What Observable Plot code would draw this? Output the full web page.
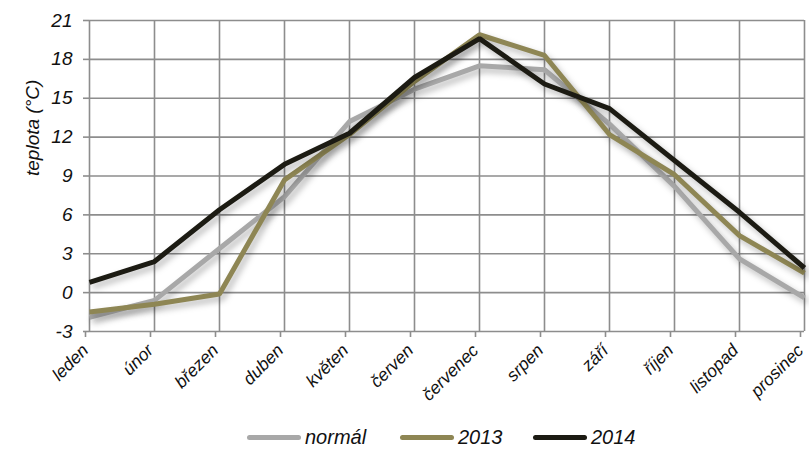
<!DOCTYPE html>
<html>
<head>
<meta charset="utf-8">
<script src="https://cdn.jsdelivr.net/npm/d3@7"></script>
<script src="https://cdn.jsdelivr.net/npm/@observablehq/plot@0.6"></script>
<style>
  body { margin: 0; background: #fff; font-family: "Liberation Sans", Arial, sans-serif; }
  #chart { position: relative; width: 809px; height: 449px; }
  #chart svg text { font-family: "Liberation Sans", Arial, sans-serif; font-style: italic; fill: #111; }
  .shadow path { filter: drop-shadow(3px 4px 3px rgba(0,0,0,0.28)); }
  #legend { position: absolute; left: 0; top: 424px; width: 809px; height: 26px; }
  .item { position: absolute; top: 0; display: flex; align-items: center; height: 26px; font-style: italic; font-size: 20px; color: #111; }
  .sw { display: inline-block; width: 54px; height: 5px; border-radius: 3px; margin-right: 4px; }
</style>
</head>
<body>
<div id="chart"></div>
<script>
const months = ["leden","únor","březen","duben","květen","červen","červenec","srpen","září","říjen","listopad","prosinec"];
const normal = [-1.9, -0.6, 3.4, 7.4, 13.2, 15.7, 17.5, 17.2, 13.0, 8.2, 2.6, -0.4];
const y2013  = [-1.5, -0.9, -0.1, 8.7, 12.2, 16.3, 19.9, 18.3, 12.2, 9.1, 4.4, 1.5];
const y2014  = [0.8, 2.4, 6.4, 9.9, 12.3, 16.6, 19.6, 16.1, 14.2, 10.2, 6.2, 1.9];
const yTicks = [-3, 0, 3, 6, 9, 12, 15, 18, 21];
const seriesNames = ["normál", "2013", "2014"];
const seriesColors = ["#a8a8a8", "#8e8654", "#1c1b13"];

const seriesValues = [normal, y2013, y2014];
const data = seriesNames.flatMap((s, i) => months.map((m, j) => ({series: s, month: m, value: seriesValues[i][j]})));

const gridColor = "#8d8d8d";
const chart = Plot.plot({
  width: 809,
  height: 420,
  marginLeft: 89,
  marginRight: 5,
  marginTop: 20,
  marginBottom: 89,
  style: { background: "#fff", overflow: "visible" },
  x: { type: "point", domain: months, padding: 0 },
  y: { domain: [-3, 21] },
  color: { domain: seriesNames, range: seriesColors },
  marks: [
    Plot.gridX(months, { stroke: gridColor, strokeOpacity: 1, strokeWidth: 1.6 }),
    Plot.gridY(yTicks, { stroke: gridColor, strokeOpacity: 1, strokeWidth: 1.6 }),
    Plot.axisY(yTicks, { tickSize: 6, tickPadding: 11, stroke: gridColor, strokeWidth: 1.6, fontSize: 19, tickFormat: d => String(d), label: null }),
    Plot.axisX(months, { tickSize: 6, tickPadding: 10, dx: -4, stroke: gridColor, strokeWidth: 1.6, fontSize: 17.5, tickRotate: -45, label: null }),
    Plot.text(["teplota (°C)"], { frameAnchor: "left", dx: -57, dy: 0, rotate: -90, fontSize: 19 }),
    Plot.line(data, { x: "month", y: "value", z: "series", stroke: "series", strokeWidth: 5, strokeLinejoin: "miter", strokeLinecap: "butt", className: "shadow" })
  ]
});
document.getElementById("chart").appendChild(chart);

const legend = document.createElement("div");
legend.id = "legend";
const lefts = [247, 400, 533];
seriesNames.forEach((s, i) => {
  const it = document.createElement("div");
  it.className = "item";
  it.style.left = lefts[i] + "px";
  const sw = document.createElement("span");
  sw.className = "sw";
  sw.style.background = seriesColors[i];
  it.appendChild(sw);
  it.appendChild(document.createTextNode(s));
  legend.appendChild(it);
});
document.getElementById("chart").appendChild(legend);
</script>
</body>
</html>
